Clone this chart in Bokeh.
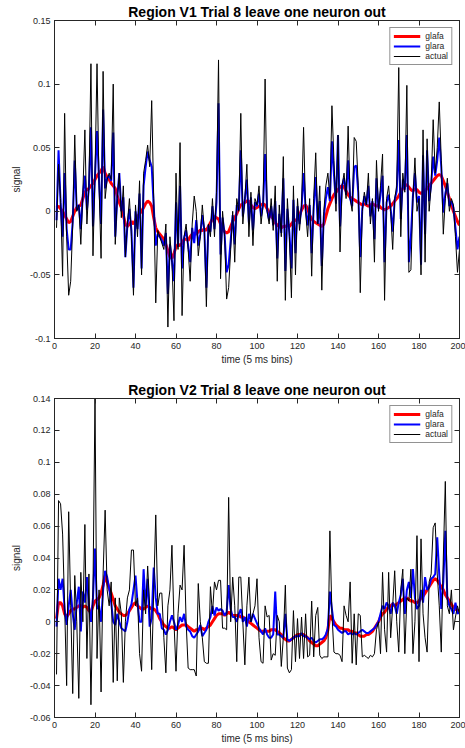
from bokeh.plotting import figure
from bokeh.layouts import column
from bokeh.models import LinearAxis, FixedTicker, Range1d
from bokeh.embed import file_html
from bokeh.resources import INLINE

TIME = list(range(1, 201))

V1_GLAFA = [
    0.003, 0.004, 0.002, 0.0, -0.003, -0.006, -0.009, -0.008, -0.004, 0.0,
    0.003, 0.004, 0.005, 0.01, 0.015, 0.017, 0.018, 0.02, 0.022, 0.025,
    0.028, 0.03, 0.032, 0.035, 0.03, 0.027, 0.025, 0.022, 0.02, 0.018,
    0.012, 0.007, 0.003, -0.003, -0.01, -0.012, -0.01, -0.008, -0.01, -0.007,
    -0.004, -0.002, 0.0, 0.003, 0.006, 0.008, 0.007, 0.004, -0.005, -0.013,
    -0.016, -0.018, -0.02, -0.022, -0.026, -0.031, -0.036, -0.037, -0.033, -0.028,
    -0.026, -0.027, -0.025, -0.022, -0.022, -0.023, -0.02, -0.018, -0.017, -0.018,
    -0.016, -0.015, -0.015, -0.014, -0.015, -0.012, -0.009, -0.006, -0.004, -0.005,
    -0.006, -0.01, -0.013, -0.016, -0.017, -0.016, -0.012, -0.008, -0.005, -0.002,
    0.002, 0.005, 0.006, 0.007, 0.008, 0.008, 0.005, 0.003, 0.002, 0.003,
    0.004, 0.005, 0.006, 0.005, 0.002, -0.001, -0.004, -0.006, -0.009, -0.011,
    -0.012, -0.013, -0.012, -0.012, -0.011, -0.012, -0.01, -0.008, -0.007, -0.006,
    -0.003, 0.001, 0.004, 0.005, 0.002, -0.003, -0.006, -0.008, -0.009, -0.01,
    -0.011, -0.012, -0.01, -0.004, 0.002, 0.006, 0.01, 0.013, 0.015, 0.017,
    0.019, 0.02, 0.019, 0.016, 0.013, 0.011, 0.01, 0.009, 0.008, 0.007,
    0.006, 0.005, 0.006, 0.005, 0.004, 0.005, 0.006, 0.005, 0.004, 0.005,
    0.003, 0.002, 0.001, 0.002, 0.003, 0.004, 0.006, 0.008, 0.01, 0.012,
    0.015, 0.018, 0.02, 0.021, 0.019, 0.017, 0.016, 0.018, 0.017, 0.015,
    0.014, 0.015, 0.016, 0.018, 0.02, 0.022, 0.024, 0.026, 0.028, 0.029,
    0.028, 0.024, 0.02, 0.015, 0.01, 0.005, 0.0, -0.004, -0.008, -0.011,
]

V1_GLARA = [
    -0.007, 0.048, 0.007, -0.02, 0.03, -0.014, -0.03, -0.03, -0.008, 0.04,
    0.001, 0.005, -0.014, 0.013, 0.028, 0.001, 0.019, 0.066, -0.012, 0.028,
    0.063, 0.024, -0.01, 0.08, 0.018, 0.026, 0.028, 0.024, 0.062, -0.02,
    0.011, 0.03, 0.0, 0.011, -0.036, -0.011, 0.002, -0.015, -0.06, 0.0,
    -0.014, 0.014, -0.045, 0.02, 0.035, 0.047, 0.04, 0.035, 0.004, -0.027,
    -0.018, -0.02, -0.023, -0.027, -0.017, -0.065, -0.026, -0.039, -0.055, 0.007,
    -0.028, 0.02, -0.045, -0.021, -0.015, -0.027, -0.04, -0.013, -0.025, -0.007,
    -0.027, -0.018, -0.003, -0.015, -0.06, -0.011, -0.016, 0.004, -0.014, 0.007,
    0.085, -0.034, -0.005, -0.018, -0.048, -0.042, -0.023, -0.003, -0.026, 0.005,
    0.001, 0.048, -0.004, 0.009, 0.025, -0.009, 0.011, -0.015, 0.007, 0.004,
    0.014, -0.004, 0.005, 0.045, 0.001, -0.007, 0.004, -0.011, 0.008, -0.037,
    -0.002, -0.017, 0.026, -0.047, 0.002, -0.017, -0.045, 0.009, -0.033, 0.004,
    -0.01, 0.003, 0.03, 0.002, -0.011, 0.005, -0.033, 0.003, 0.027, -0.01,
    0.008, -0.043, -0.004, 0.01, 0.019, 0.008, 0.055, 0.029, 0.006, 0.06,
    -0.012, 0.02, 0.026, 0.013, 0.04, 0.01, 0.004, 0.035, 0.036, 0.015,
    -0.036, 0.002, 0.012, 0.005, 0.02, -0.004, 0.008, -0.022, 0.026, 0.002,
    0.013, 0.028, -0.04, 0.007, 0.013, 0.002, -0.016, 0.009, 0.016, 0.056,
    -0.006, 0.025, 0.017, 0.06, -0.04, -0.02, 0.012, 0.03, 0.007, 0.012,
    -0.042, 0.044, -0.018, 0.048, 0.008, 0.021, 0.043, 0.028, 0.04, 0.058,
    0.035, -0.001, 0.014, 0.022, 0.004, 0.008, 0.003, -0.013, -0.03, -0.02,
]

V1_ACTUAL = [
    -0.013, 0.037, 0.01, -0.051, 0.077, -0.02, -0.066, -0.055, -0.01, 0.06,
    0.0, 0.005, -0.026, 0.015, 0.064, -0.01, 0.02, 0.116, -0.035, 0.03,
    0.116, 0.02, -0.037, 0.11, 0.01, 0.025, 0.03, 0.025, 0.1, -0.026,
    0.01, 0.03, -0.005, 0.02, -0.036, -0.01, 0.01, -0.02, -0.066, 0.005,
    -0.02, 0.024, -0.05, 0.03, 0.04, 0.052, 0.035, 0.087, 0.01, -0.072,
    -0.015, -0.02, -0.025, -0.03, -0.01, -0.091, -0.02, -0.04, -0.086, 0.03,
    -0.03, 0.054, -0.082, -0.02, -0.01, -0.03, -0.055, -0.01, 0.012, 0.0,
    -0.035, -0.02, 0.005, -0.015, -0.075, -0.01, -0.02, 0.01, -0.02, 0.015,
    0.119, -0.053, 0.0, -0.02, -0.069, -0.06, -0.03, 0.0, -0.04, 0.01,
    0.0, 0.077, -0.01, 0.01, 0.037, -0.02, 0.015, -0.027, 0.01, 0.005,
    0.02, -0.01, 0.005, 0.104, 0.0, -0.01, 0.01, -0.015, 0.02, -0.055,
    0.005, -0.02, 0.043, -0.07, 0.01, -0.02, -0.068, 0.02, -0.05, 0.01,
    -0.015, 0.005, 0.066, 0.0, -0.02, 0.01, -0.051, 0.01, 0.046, -0.01,
    0.02, -0.062, 0.0, 0.02, 0.03, 0.01, 0.083, 0.04, 0.0, 0.06,
    -0.032, 0.02, 0.03, 0.01, 0.067, 0.01, 0.0, 0.058, 0.055, 0.02,
    -0.064, 0.0, 0.015, 0.005, 0.03, -0.01, 0.01, -0.04, 0.04, 0.0,
    0.02, 0.045, -0.07, 0.01, 0.02, 0.0, -0.03, 0.01, 0.02, 0.113,
    -0.02, 0.03, 0.015, 0.099, -0.048, -0.046, 0.01, 0.042, 0.0, 0.01,
    -0.05, 0.064, -0.04, 0.057, 0.0, 0.02, 0.072, 0.03, 0.05, 0.086,
    0.04, -0.018, 0.01, 0.026, 0.0, 0.01, 0.005, -0.02, -0.048, -0.03,
]

V2_GLAFA = [
    0.002, 0.012, 0.012, 0.01, 0.005, 0.003, 0.005, 0.007, 0.008, 0.008,
    0.009, 0.01, 0.01, 0.009, 0.01, 0.009, 0.007, 0.006, 0.01, 0.013,
    0.014, 0.015, 0.018, 0.023, 0.029, 0.025, 0.021, 0.018, 0.014, 0.01,
    0.008, 0.006, 0.005, 0.004, 0.004, 0.005, 0.007, 0.009, 0.011, 0.012,
    0.01, 0.009, 0.008, 0.008, 0.009, 0.01, 0.009, 0.008, 0.008, 0.007,
    0.005, 0.002, 0.0, -0.002, -0.003, -0.004, -0.004, -0.003, -0.004, -0.005,
    -0.004, -0.003, -0.002, -0.002, -0.002, -0.003, -0.004, -0.005, -0.006, -0.005,
    -0.005, -0.004, -0.004, -0.005, -0.004, -0.003, -0.002, 0.0, 0.002, 0.004,
    0.005, 0.005, 0.005, 0.004, 0.005, 0.006, 0.005, 0.004, 0.004, 0.004,
    0.004, 0.003, 0.003, 0.002, 0.001, 0.0, -0.001, -0.002, -0.003, -0.004,
    -0.005, -0.006, -0.006, -0.006, -0.006, -0.006, -0.005, -0.005, -0.005, -0.006,
    -0.007, -0.008, -0.01, -0.011, -0.012, -0.012, -0.011, -0.01, -0.009, -0.008,
    -0.008, -0.008, -0.008, -0.009, -0.01, -0.012, -0.013, -0.014, -0.015, -0.015,
    -0.014, -0.013, -0.012, -0.01, -0.005, 0.004, 0.002, 0.0, -0.002, -0.003,
    -0.004, -0.004, -0.005, -0.005, -0.005, -0.006, -0.006, -0.007, -0.007, -0.008,
    -0.009, -0.009, -0.009, -0.008, -0.008, -0.007, -0.006, -0.004, -0.002, 0.0,
    0.003, 0.005, 0.006, 0.008, 0.009, 0.01, 0.011, 0.01, 0.011, 0.012,
    0.013, 0.014, 0.015, 0.015, 0.014, 0.013, 0.013, 0.012, 0.012, 0.013,
    0.015, 0.016, 0.018, 0.02, 0.022, 0.024, 0.026, 0.027, 0.026, 0.024,
    0.022, 0.02, 0.017, 0.015, 0.013, 0.011, 0.009, 0.008, 0.007, 0.006,
]

V2_GLARA = [
    -0.003, 0.027, 0.02, 0.027, 0.008, -0.002, 0.01, 0.02, 0.005, -0.005,
    0.012, 0.022, -0.006, 0.019, 0.012, 0.028, 0.01, 0.0, 0.015, 0.046,
    0.008, 0.01, 0.0, 0.02, 0.032, 0.028, 0.021, 0.012, 0.0, -0.002,
    0.005, 0.0, -0.004, -0.005, -0.006, 0.0, 0.008, 0.011, 0.02, 0.029,
    0.012, 0.0, 0.0, 0.033, 0.01, 0.027, -0.003, 0.002, 0.034, 0.015,
    0.005, 0.005, -0.004, -0.005, -0.008, -0.005, 0.0, 0.004, 0.0, -0.005,
    -0.002, 0.003, 0.0, 0.005, -0.003, -0.005, -0.006, -0.009, -0.01, -0.008,
    -0.006, -0.002, -0.009, -0.007, -0.005, 0.0, 0.003, 0.01, 0.004, 0.009,
    0.007, 0.008, 0.007, 0.004, 0.006, 0.023, 0.008, 0.003, 0.003, 0.0,
    0.005, 0.008, 0.0, 0.003, -0.003, 0.005, 0.0, 0.005, 0.002, -0.001,
    -0.004, -0.006, -0.008, -0.004, -0.008, -0.01, -0.01, -0.008, 0.019, -0.008,
    -0.008, -0.009, -0.01, 0.005, -0.011, -0.012, -0.011, -0.01, -0.009, -0.009,
    -0.009, -0.007, -0.009, -0.009, -0.01, -0.011, -0.01, -0.012, -0.013, -0.012,
    -0.011, -0.011, -0.01, -0.008, -0.004, 0.019, 0.008, -0.002, -0.003, -0.005,
    -0.006, -0.007, -0.006, -0.006, -0.008, -0.007, -0.008, -0.007, -0.008, -0.007,
    -0.006, -0.005, -0.006, -0.007, -0.007, -0.006, -0.005, -0.004, -0.002, 0.0,
    0.005, 0.01, 0.008, 0.012, 0.01, 0.005, 0.012, 0.01, 0.005, 0.012,
    0.017, 0.027, 0.005, 0.02, 0.025, 0.015, 0.033, 0.015, 0.008, 0.01,
    0.02, 0.012, 0.028, 0.02, 0.022, 0.027, 0.028, 0.03, 0.053, 0.03,
    0.008, 0.025, 0.057, 0.015, 0.01, 0.008, 0.005, 0.012, 0.005, 0.006,
]

V2_ACTUAL = [
    -0.033, 0.076, 0.074, 0.055, 0.01, -0.04, 0.069, 0.01, -0.045, 0.029,
    0.0, -0.048, 0.031, 0.0, 0.061, -0.023, 0.03, -0.052, 0.02, 0.14,
    -0.023, 0.02, -0.044, 0.03, 0.07, 0.02, 0.01, 0.025, -0.038, 0.015,
    -0.037, 0.015, 0.005, -0.038, 0.0, 0.015, 0.02, 0.045, 0.045, 0.01,
    0.015, -0.02, -0.031, 0.02, 0.005, 0.035, 0.01, -0.03, 0.02, 0.067,
    0.01, 0.018, 0.018, -0.01, -0.032, 0.01, 0.02, 0.048, 0.0, -0.031,
    0.005, 0.023, 0.02, 0.048, 0.0, -0.029, -0.03, -0.03, -0.03, -0.034,
    0.024, 0.0, -0.01, -0.025, -0.026, -0.026, 0.022, 0.005, 0.025, 0.02,
    0.026, 0.026, -0.004, -0.004, -0.005, 0.078, 0.0, 0.028, 0.01, -0.025,
    0.028, 0.028, 0.0, -0.027, 0.01, 0.028, 0.0, 0.005, 0.01, 0.027,
    -0.01, -0.025, -0.026, 0.01, 0.003, 0.004, -0.024, -0.02, -0.021, 0.004,
    0.0, -0.028, -0.01, 0.023, -0.029, -0.032, -0.03, 0.007, -0.025, 0.002,
    -0.023, 0.003, -0.023, 0.005, -0.022, -0.021, 0.013, -0.022, 0.004, 0.009,
    -0.021, -0.023, -0.022, -0.022, -0.022, 0.057, 0.005, -0.019, -0.02, -0.02,
    -0.021, -0.025, 0.01, 0.004, 0.0, 0.025, -0.026, 0.005, -0.027, 0.005,
    0.004, -0.022, -0.021, -0.022, -0.023, -0.021, -0.022, -0.02, -0.005, 0.0,
    -0.02, 0.031, -0.005, -0.019, 0.031, -0.01, 0.01, 0.032, 0.0, -0.019,
    0.02, 0.033, -0.02, 0.015, 0.013, 0.033, -0.02, 0.0, 0.054, -0.025,
    0.052, 0.005, -0.01, -0.019, 0.025, 0.03, 0.059, 0.062, 0.03, 0.01,
    -0.019, 0.04, 0.088, 0.01, 0.005, 0.02, -0.005, 0.003, 0.01, 0.005,
]

X_TICKS = [0, 20, 40, 60, 80, 100, 120, 140, 160, 180, 200]
X_TICK_LABELS = ["0", "20", "40", "60", "80", "100", "120", "140", "160", "180", "200"]
V1_Y_TICKS = [-0.1, -0.05, 0, 0.05, 0.1, 0.15]
V1_Y_TICK_LABELS = ["-0.1", "-0.05", "0", "0.05", "0.1", "0.15"]
V2_Y_TICKS = [-0.06, -0.04, -0.02, 0, 0.02, 0.04, 0.06, 0.08, 0.1, 0.12, 0.14]
V2_Y_TICK_LABELS = ["-0.06", "-0.04", "-0.02", "0", "0.02", "0.04", "0.06", "0.08", "0.1", "0.12", "0.14"]

FONT = "Liberation Sans"
AX = "#262626"


def style_axis(ax, ticks, labels, show_labels=True):
    ax.ticker = FixedTicker(ticks=ticks)
    if show_labels:
        ax.major_label_overrides = {t: l for t, l in zip(ticks, labels)}
    else:
        ax.major_label_overrides = {t: "" for t in ticks}
        ax.major_label_standoff = 0
    ax.major_tick_in = 5
    ax.major_tick_out = 0
    ax.minor_tick_in = 0
    ax.minor_tick_out = 0
    ax.axis_line_color = AX
    ax.major_tick_line_color = AX
    ax.major_label_text_font = FONT
    ax.major_label_text_font_size = "9px"
    ax.major_label_text_color = AX
    ax.axis_label_text_font = FONT
    ax.axis_label_text_font_size = "10px"
    ax.axis_label_text_font_style = "normal"
    ax.axis_label_text_color = AX


def make_panel(title, glafa, glara, actual, yticks, ylabels, y0, y1, height, top, bottom):
    p = figure(width=465, height=height, x_range=Range1d(0, 200), y_range=Range1d(y0, y1),
               output_backend="svg", toolbar_location=None,
               min_border_left=54, min_border_right=6, min_border_top=top, min_border_bottom=bottom)
    p.title.text = title
    p.title.text_font = FONT
    p.title.text_font_size = "14px"
    p.title.text_font_style = "bold"
    p.title.text_color = "black"
    p.title.align = "center"
    p.title.standoff = 2
    p.grid.visible = False
    p.outline_line_color = AX
    p.background_fill_color = "white"
    p.border_fill_color = "white"

    p.line(TIME, glafa, color="#ff0000", line_width=3, legend_label="glafa")
    p.line(TIME, glara, color="#0000ff", line_width=2, legend_label="glara")
    p.line(TIME, actual, color="black", line_width=1, legend_label="actual")

    style_axis(p.xaxis[0], X_TICKS, X_TICK_LABELS)
    p.xaxis[0].axis_label = "time (5 ms bins)"
    p.xaxis[0].major_label_standoff = 4
    p.xaxis[0].axis_label_standoff = 2
    style_axis(p.yaxis[0], yticks, ylabels)
    p.yaxis[0].axis_label = "signal"
    p.yaxis[0].major_label_standoff = 4
    p.yaxis[0].axis_label_standoff = 5

    top_ax = LinearAxis()
    style_axis(top_ax, X_TICKS, X_TICK_LABELS, show_labels=False)
    p.add_layout(top_ax, "above")
    right_ax = LinearAxis()
    style_axis(right_ax, yticks, ylabels, show_labels=False)
    p.add_layout(right_ax, "right")

    lg = p.legend[0]
    lg.location = "top_right"
    lg.margin = 7
    lg.padding = 3
    lg.spacing = 0
    lg.glyph_width = 27
    lg.glyph_height = 10
    lg.label_height = 10
    lg.label_standoff = 5
    lg.label_text_font = FONT
    lg.label_text_font_size = "8.5px"
    lg.label_text_color = AX
    lg.border_line_color = AX
    lg.border_line_width = 1
    lg.background_fill_color = "white"
    lg.background_fill_alpha = 1
    return p


p1 = make_panel("Region V1 Trial 8 leave one neuron out", V1_GLAFA, V1_GLARA, V1_ACTUAL,
                V1_Y_TICKS, V1_Y_TICK_LABELS, -0.1, 0.15, 370, 19, 32)
p2 = make_panel("Region V2 Trial 8 leave one neuron out", V2_GLAFA, V2_GLARA, V2_ACTUAL,
                V2_Y_TICKS, V2_Y_TICK_LABELS, -0.06, 0.14, 378, 28, 31)

layout = column(p1, p2, spacing=0)
open("out.html", "w").write(file_html(layout, INLINE))
